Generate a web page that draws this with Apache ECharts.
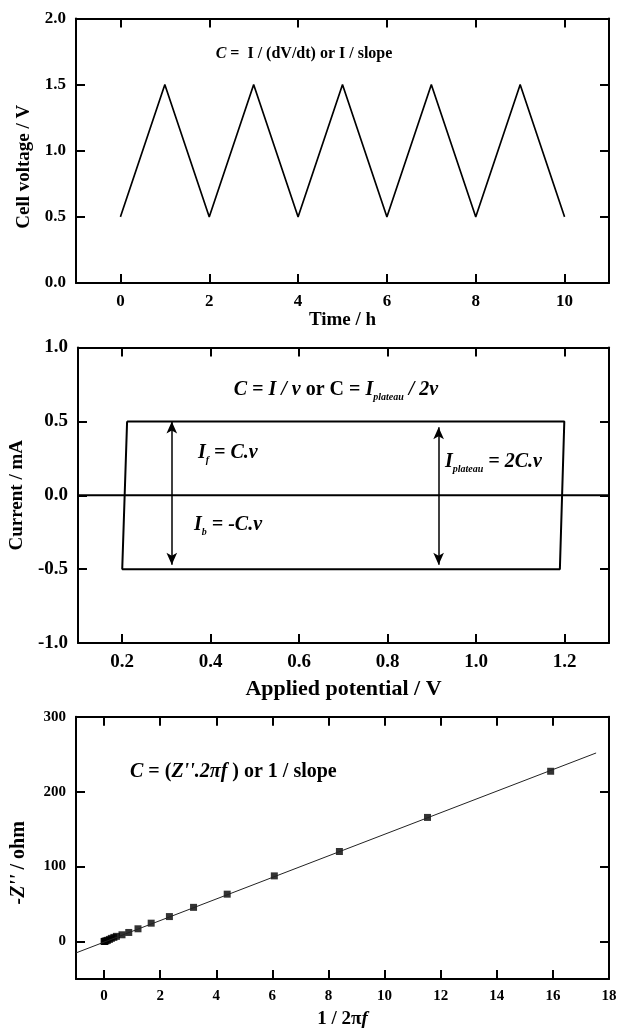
<!DOCTYPE html>
<html>
<head>
<meta charset="utf-8">
<script src="https://cdn.jsdelivr.net/npm/echarts@6/dist/echarts.min.js"></script>
<style>
  html, body { margin: 0; padding: 0; background: #fff; }
  #main { width: 620px; height: 1030px; }
</style>
</head>
<body>
<div id="main"></div>
<script>
// panel 1: galvanostatic charge / discharge
var timeH = [0, 1, 2, 3, 4, 5, 6, 7, 8, 9, 10];
var cellV = [0.5, 1.5, 0.5, 1.5, 0.5, 1.5, 0.5, 1.5, 0.5, 1.5, 0.5];
var timeTicks = [0, 2, 4, 6, 8, 10];
var voltTicks = [0, 0.5, 1, 1.5, 2];

// panel 2: cyclic voltammogram (ideal box)
var cvPotential = [0.211, 1.199, 1.189, 0.2, 0.211];
var cvCurrent = [0.5, 0.5, -0.5, -0.5, 0.5];
var zeroX = [0.1, 1.3];
var zeroY = [0, 0];
var arrowX = [0.312, 0.915];
var arrowTop = [0.5, 0.46];
var arrowBottom = [-0.47, -0.47];
var potTicks = [0.2, 0.4, 0.6, 0.8, 1.0, 1.2];
var currTicks = [-1, -0.5, 0, 0.5, 1];

// panel 3: impedance, -Z'' vs 1/2πf
var invFreq = [0, 0.02, 0.03, 0.07, 0.12, 0.19, 0.26, 0.35, 0.44, 0.64, 0.88, 1.21, 1.68, 2.33, 3.19, 4.39, 6.07, 8.39, 11.53, 15.92];
var zImag = [0, 0, 0.4, 1, 1.6, 2.8, 4.2, 5.5, 6.9, 9, 12.1, 17, 24.5, 33.3, 45.6, 63.2, 87.6, 120.1, 165.6, 227.2];
var fitX = [-1, 17.54];
var fitY = [-15.2, 251.6];
var freqTicks = [0, 2, 4, 6, 8, 10, 12, 14, 16, 18];
var zTicks = [0, 100, 200, 300];

function pairs(xs, ys) {
    var out = [];
    for (var i = 0; i < xs.length; i++) {
        out.push([xs[i], ys[i]]);
    }
    return out;
}

var serif = 'Liberation Serif';
var black = '#000';

// one side of the frame box; labels only on bottom / left
function frameAxis(grid, pos, min, max, ticks, fontSize, formatter, extra) {
    var a = {
        type: 'value',
        gridIndex: grid,
        position: pos,
        min: min,
        max: max,
        axisLine: { show: true, onZero: false, lineStyle: { color: black, width: 2 } },
        axisTick: { show: true, inside: true, length: 9, customValues: ticks, lineStyle: { color: black, width: 2 } },
        axisLabel: {
            show: pos === 'bottom' || pos === 'left',
            customValues: ticks,
            margin: 10,
            color: black,
            fontFamily: serif,
            fontWeight: 'bold',
            fontSize: fontSize,
            formatter: formatter
        },
        splitLine: { show: false }
    };
    if (extra) {
        for (var k in extra) a[k] = extra[k];
    }
    return a;
}

function fix1(v) { return v.toFixed(1); }
function int0(v) { return String(Math.round(v)); }

function nameStyle(size, pad) {
    return {
        fontFamily: serif,
        fontWeight: 'bold',
        fontSize: size,
        color: black,
        padding: pad || 0,
        rich: {
            it: { fontFamily: serif, fontWeight: 'bold', fontStyle: 'italic', fontSize: size, color: black }
        }
    };
}

var richBase = {
    it: { fontFamily: serif, fontWeight: 'bold', fontStyle: 'italic', fontSize: 20, fill: black },
    b: { fontFamily: serif, fontWeight: 'bold', fontSize: 20, fill: black },
    sub: { fontFamily: serif, fontWeight: 'bold', fontStyle: 'italic', fontSize: 10, fill: black, padding: [14, 0, 0, 0] }
};

function note(x, y, text, align, rich) {
    return {
        type: 'text',
        x: x,
        y: y,
        silent: true,
        style: {
            text: text,
            textAlign: align,
            textVerticalAlign: 'middle',
            rich: rich || richBase
        }
    };
}

var myChart = echarts.init(document.getElementById('main'));

var option = {
    animation: false,
    backgroundColor: '#fff',
    grid: [
        { left: 76, top: 18.5, width: 533, height: 264.5 },
        { left: 76, top: 347.5, width: 533, height: 295.5 },
        { left: 76, top: 716.7, width: 533, height: 265.6 }
    ],
    xAxis: [
        frameAxis(0, 'bottom', -1, 11, timeTicks, 17, int0, {
            name: 'Time / h', nameLocation: 'middle', nameGap: 25, nameTextStyle: nameStyle(19)
        }),
        frameAxis(0, 'top', -1, 11, timeTicks, 17, int0),
        frameAxis(1, 'bottom', 0.1, 1.3, potTicks, 19, fix1, {
            name: 'Applied potential / V', nameLocation: 'middle', nameGap: 35, nameTextStyle: nameStyle(22)
        }),
        frameAxis(1, 'top', 0.1, 1.3, potTicks, 19, fix1),
        frameAxis(2, 'bottom', -1, 18, freqTicks, 15, int0, {
            name: '1 / 2π{it|f}', nameLocation: 'middle', nameGap: 31, nameTextStyle: nameStyle(19)
        }),
        frameAxis(2, 'top', -1, 18, freqTicks, 15, int0)
    ],
    yAxis: [
        frameAxis(0, 'left', 0, 2, voltTicks, 17, fix1, {
            name: 'Cell voltage / V', nameLocation: 'middle', nameGap: 35, nameTextStyle: nameStyle(19, [0, 32, 0, 0])
        }),
        frameAxis(0, 'right', 0, 2, voltTicks, 17, fix1),
        frameAxis(1, 'left', -1, 1, currTicks, 19, fix1, {
            name: 'Current / mA', nameLocation: 'middle', nameGap: 48, nameTextStyle: nameStyle(19)
        }),
        frameAxis(1, 'right', -1, 1, currTicks, 19, fix1),
        frameAxis(2, 'left', -50, 300, zTicks, 15, int0, {
            name: "{it|-Z''} / ohm", nameLocation: 'middle', nameGap: 47, nameTextStyle: nameStyle(20, [0, 30, 0, 0])
        }),
        frameAxis(2, 'right', -50, 300, zTicks, 15, int0)
    ],
    series: [
        {
            name: 'voltage',
            type: 'line',
            xAxisIndex: 0,
            yAxisIndex: 0,
            data: pairs(timeH, cellV),
            symbol: 'none',
            lineStyle: { color: black, width: 1.6 }
        },
        {
            name: 'cv',
            type: 'line',
            xAxisIndex: 2,
            yAxisIndex: 2,
            data: pairs(cvPotential, cvCurrent),
            symbol: 'none',
            lineStyle: { color: black, width: 2 }
        },
        {
            name: 'zero',
            type: 'line',
            xAxisIndex: 2,
            yAxisIndex: 2,
            data: pairs(zeroX, zeroY),
            symbol: 'none',
            lineStyle: { color: black, width: 2 },
            markLine: {
                silent: true,
                symbol: ['arrow', 'arrow'],
                symbolSize: [8, 12],
                label: { show: false },
                lineStyle: { color: black, width: 1.5, type: 'solid' },
                data: [
                    [{ coord: [arrowX[0], arrowTop[0]] }, { coord: [arrowX[0], arrowBottom[0]] }],
                    [{ coord: [arrowX[1], arrowTop[1]] }, { coord: [arrowX[1], arrowBottom[1]] }]
                ]
            }
        },
        {
            name: 'fit',
            type: 'line',
            xAxisIndex: 4,
            yAxisIndex: 4,
            data: pairs(fitX, fitY),
            symbol: 'none',
            lineStyle: { color: '#222', width: 1 }
        },
        {
            name: 'impedance',
            type: 'scatter',
            xAxisIndex: 4,
            yAxisIndex: 4,
            data: pairs(invFreq, zImag),
            symbol: 'rect',
            symbolSize: 7,
            itemStyle: { color: black }
        }
    ],
    graphic: [
        note(304, 54, '{it|C} =  I / (dV/dt) or I / slope', 'center', {
            it: { fontFamily: serif, fontWeight: 'bold', fontStyle: 'italic', fontSize: 16, fill: black }
        }),
        note(336, 390, '{it|C = I / ν}{b| or C = }{it|I}{sub|plateau}{it| / 2ν}', 'center'),
        note(198, 453, '{it|I}{sub|f}{it| = C.ν}', 'left'),
        note(194, 525, '{it|I}{sub|b}{it| = -C.ν}', 'left'),
        note(445, 462, '{it|I}{sub|plateau}{it| = 2C.ν}', 'left'),
        note(130, 772, "{it|C}{b| = (}{it|Z''.2πf}{b| ) or 1 / slope}", 'left')
    ]
};

// graphic text style needs the font on the plain part too
option.graphic[0].style.font = 'bold 16px "Liberation Serif"';
for (var i = 1; i < option.graphic.length; i++) {
    option.graphic[i].style.font = 'bold 20px "Liberation Serif"';
}

myChart.setOption(option);
</script>
</body>
</html>
